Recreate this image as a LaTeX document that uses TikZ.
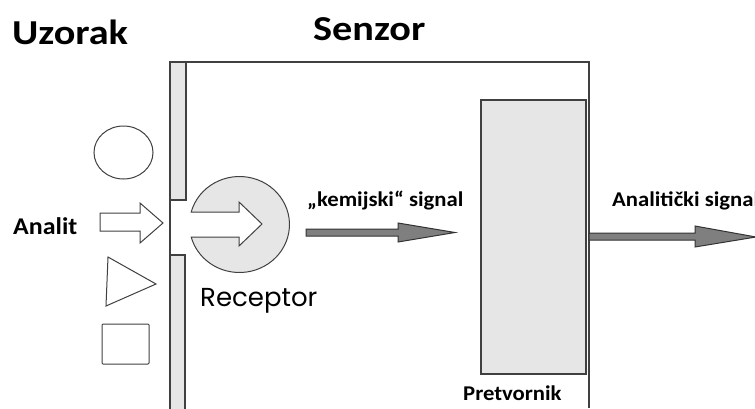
\documentclass[tikz,border=0pt]{standalone}
\usepackage{fontspec}
\setmainfont{Carlito}
\newfontfamily\labelfont[FakeStretch=1.08]{Carlito}
\newfontfamily\titlefont[FakeStretch=1.15]{Carlito}
\newfontfamily\receptorfont{Poppins}
\definecolor{lightfill}{HTML}{E6E6E6}
\definecolor{edgegray}{HTML}{404040}
\definecolor{arrowgray}{HTML}{7F7F7F}
\tikzset{
	title/.style={inner sep=0pt, anchor=base west, font=\titlefont\fontsize{35}{40}\selectfont\bfseries},
	tag/.style={inner sep=0pt, anchor=base west, font=\labelfont\fontsize{21}{24}\selectfont\bfseries},
	outline/.style={draw=edgegray, line width=1.2pt},
	hollow/.style={draw=edgegray, line width=1pt, fill=white},
	graybox/.style={draw=edgegray, line width=1.2pt, fill=lightfill},
	signal/.style={draw=black!80, line width=1pt, fill=arrowgray}
}
\begin{document}
\begin{tikzpicture}[x=1pt,y=-1pt]
	\useasboundingbox (0,0) rectangle (755,408);
	\node[title] at (12,44) (uzorak) {Uzorak};
	\node[title] at (313,40) (senzor) {Senzor};
	\node[tag, font=\labelfont\fontsize{24}{27}\selectfont\bfseries] at (13,234) (analit) {Analit};
	\node[tag] at (307,206) (kemsignal) {„kemijski“ signal};
	\node[tag] at (612,206) (analsignal) {Analitički signal};
	\node[tag] at (463,400) (pretvornik) {Pretvornik};
	\node[inner sep=0pt, anchor=base west, font=\receptorfont\fontsize{26}{29}\selectfont] at (200,306) (receptor) {Receptor};
	\draw[outline] (170,408)--(170,62)--(589,62)--(589,408);
	\draw[graybox] (170,62) rectangle (186,200);
	\draw[graybox] (170,255) rectangle (185,410);
	\draw[graybox] (481,100) rectangle (586,374);
	\draw[hollow] (123.5,152.5) ellipse [x radius=29.5, y radius=26.5];
	\draw[hollow] (108,257)--(156,284)--(106,306)--cycle;
	\draw[hollow, rounded corners=1pt] (102,324) rectangle (149,364);
	\draw[hollow] (100,213)--(140,213)--(140,203)--(163,223)--(140,243)--(140,231)--(100,231)--cycle;
	\draw[graybox, line width=1pt] (191.2,212) arc[start angle=195.1, end angle=524.9, x radius=50, y radius=48]
		--(239,237)--(239,246)--(262,224)--(239,202)--(239,212)--cycle;
	\draw[signal] (306,229)--(398,229)--(398,223)--(455,232.5)--(398,242)--(398,236)--(306,236)--cycle;
	\draw[signal] (589,233)--(695,233)--(695,226)--(756,237)--(695,247)--(695,240)--(589,240)--cycle;
\end{tikzpicture}
\end{document}
